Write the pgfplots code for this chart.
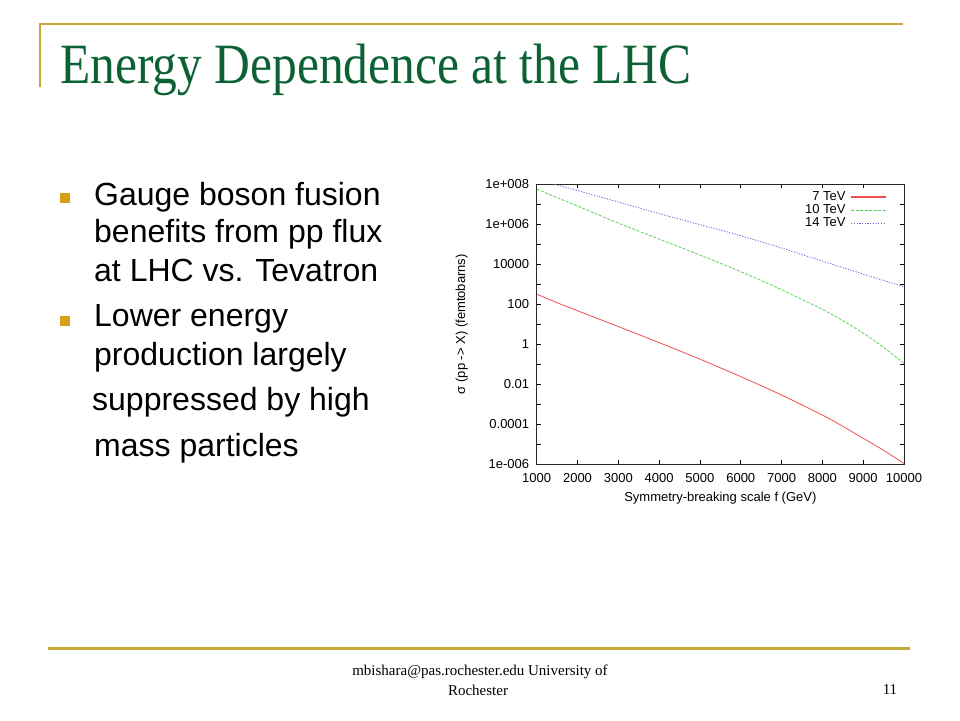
\documentclass[border=0pt]{standalone}
\usepackage{fontspec}
\setmainfont{Liberation Sans}
\newfontfamily\serif{Liberation Serif}
\usepackage{pgfplots}
\pgfplotsset{compat=1.18}
\definecolor{gold}{RGB}{201,168,58}
\definecolor{bulletgold}{RGB}{212,160,23}
\definecolor{titlegreen}{RGB}{12,98,52}
\definecolor{lred}{RGB}{240,80,80}
\definecolor{lgreen}{RGB}{90,210,90}
\definecolor{lblue}{RGB}{100,100,220}
\newcommand{\bfont}{\fontsize{32}{36}\selectfont}
\newcommand{\cfont}{\fontsize{13}{15}\selectfont}
\begin{document}
\begin{tikzpicture}[x=1pt,y=-1pt]
\fill[white] (0,0) rectangle (960,720);
% slide frame
\draw[gold, line width=2pt] (40,24) -- (903,24);
\draw[gold, line width=2pt] (40,23) -- (40,87);
\draw[gold, line width=3pt] (48,648) -- (910,648);
\node[anchor=base west, text=titlegreen, inner sep=0pt,
      font=\serif\fontsize{49.5}{58}\selectfont] at (60,83)
      {\scalebox{1}[1.15]{Energy Dependence at the LHC}};
% bullets
\fill[bulletgold] (60,193) rectangle (70,203);
\fill[bulletgold] (60,316) rectangle (70,326);
\begin{scope}[every node/.style={anchor=base west, inner sep=0pt, font=\bfont}]
\node at (94,205)   {Gauge boson fusion};
\node at (94,242.7) {benefits from pp flux};
\node at (94,281.7) {at LHC vs. Tevatron};
\node at (94,326.7) {Lower energy};
\node at (94,365)   {production largely};
\node at (92,410)   {suppressed by high};
\node at (94,456.7) {mass particles};
\end{scope}
% footer
\node[font=\serif\fontsize{15}{18}\selectfont, inner sep=0pt] at (480,672) {mbishara@pas.rochester.edu University of};
\node[font=\serif\fontsize{15}{18}\selectfont, inner sep=0pt] at (478,690) {Rochester};
\node[font=\serif\fontsize{15}{18}\selectfont, inner sep=0pt] at (890,690) {11};
% chart
\begin{axis}[
    at={(536.7pt,-464.3pt)}, anchor=south west,
    width=367.3pt, height=280.3pt, scale only axis,
    xmin=1000, xmax=10000,
    ymode=log, ymin=1e-6, ymax=1e8,
    xtick={1000,2000,3000,4000,5000,6000,7000,8000,9000,10000},
    xticklabels={1000,2000,3000,4000,5000,6000,7000,8000,9000,10000},
    scaled x ticks=false,
    ytick={1e-6,1e-5,1e-4,1e-3,1e-2,1e-1,1,1e1,1e2,1e3,1e4,1e5,1e6,1e7,1e8},
    yticklabels={1e-006,,0.0001,,0.01,,1,,100,,10000,,1e+006,,1e+008},
    minor tick length=0pt,
    tick align=inside, major tick length=4pt,
    tick style={black, line width=0.6pt},
    axis line style={black!85, line width=0.9pt},
    tick label style={font=\cfont},
    xticklabel style={yshift=-5.5pt},
    yticklabel style={xshift=-4pt},
    xlabel={Symmetry-breaking scale f (GeV)},
    ylabel={σ (pp -> X) (femtobarns)},
    label style={font=\cfont},
    xlabel style={at={(axis description cs:0.5,-0.121)}, anchor=center},
    ylabel style={at={(axis description cs:-0.204,0.5)}, anchor=center},
    legend plot pos=right,
    legend cell align=right,
    legend style={at={(0.962,0.985)}, anchor=north east, draw=none, fill=none,
        font=\cfont, row sep=0pt,
        nodes={inner xsep=5pt, inner ysep=0pt, text height=9.8pt, text depth=3.5pt}},
    legend image code/.code={\draw[#1, line width=1.2pt] (0pt,0pt) -- (35pt,0pt);},
]
\addplot[draw=lred, line width=0.8pt, smooth] coordinates {
    (1000,316) (1500,117.5) (2000,46.8) (3000,7.59) (4000,1.20)
    (5000,0.178) (6000,0.024) (7000,2.88e-3) (8000,2.88e-4)
    (8500,7.94e-5) (9000,2.0e-5) (9500,5.0e-6) (10000,1.1e-6)
};
\addlegendentry{7 TeV}
\addplot[draw=lgreen, line width=0.8pt, smooth, dash pattern=on 3pt off 1.5pt] coordinates {
    (1000,5.62e7) (1500,2.1e7) (2000,7.94e6) (3000,1.12e6) (4000,1.78e5)
    (5000,2.82e4) (6000,4.17e3) (7000,525) (8000,55)
    (8500,15.1) (9000,3.55) (9500,0.69) (10000,0.11)
};
\addlegendentry{10 TeV}
\addplot[draw=lblue, line width=0.8pt, smooth, dash pattern=on 1.2pt off 1.5pt] coordinates {
    (1000,1.78e8) (1500,8.9e7) (2000,4.68e7) (3000,1.26e7) (4000,3.31e6)
    (5000,9.33e5) (6000,2.63e5) (7000,6.31e4) (8000,1.41e4)
    (9000,3.16e3) (10000,741)
};
\addlegendentry{14 TeV}
\end{axis}
\end{tikzpicture}
\end{document}
